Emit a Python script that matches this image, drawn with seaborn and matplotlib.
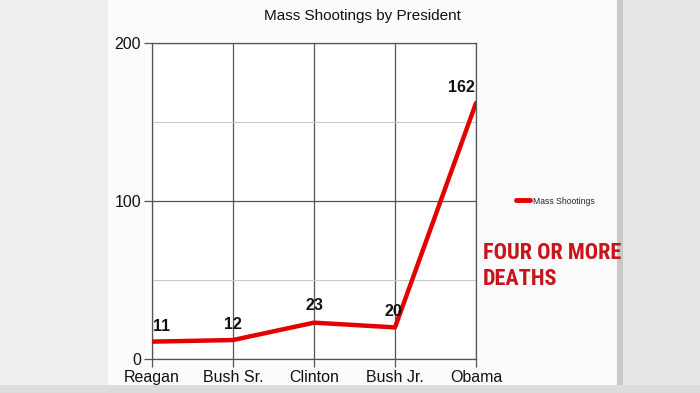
import matplotlib
matplotlib.use("Agg")
import matplotlib.pyplot as plt
import matplotlib.patches as mpatches
from matplotlib.ticker import MultipleLocator
import seaborn as sns
import pandas as pd

presidents = ["Reagan", "Bush Sr.", "Clinton", "Bush Jr.", "Obama"]
shootings = [11, 12, 23, 20, 162]
series_name = "Mass Shootings"
title = "Mass Shootings by President"
caption = "FOUR OR MORE\nDEATHS"

df = pd.DataFrame({"President": presidents, series_name: shootings})

sns.set_theme(style="white")
plt.rcParams["font.family"] = ["Liberation Sans", "DejaVu Sans"]

fig = plt.figure(figsize=(7.0, 3.93), dpi=100)
fig.patch.set_facecolor("#fbfbfb")

# screenshot backdrop: blurred side panels
fig.add_artist(mpatches.Rectangle((0, 0), 108 / 700, 1, transform=fig.transFigure,
                                  facecolor="#efefef", edgecolor="none", zorder=0))
fig.add_artist(mpatches.Rectangle((617 / 700, 0), 83 / 700, 1, transform=fig.transFigure,
                                  facecolor="#e6e6e6", edgecolor="none", zorder=0))
fig.add_artist(mpatches.Rectangle((617 / 700, 0), 6 / 700, 1, transform=fig.transFigure,
                                  facecolor="#c8c8c8", edgecolor="none", zorder=0))
fig.add_artist(mpatches.Rectangle((0, 0), 1, 8 / 393, transform=fig.transFigure,
                                  facecolor="#dcdcdc", edgecolor="none", zorder=0))

ax = fig.add_axes([152 / 700, 34 / 393, 324 / 700, 316 / 393])
ax.set_facecolor("white")

sns.lineplot(data=df, x="President", y=series_name, ax=ax, color="#e30000",
             linewidth=3.2, label=series_name, sort=False, zorder=3)

ax.set_xlim(0, len(presidents) - 1)
ax.set_ylim(0, 200)
ax.yaxis.set_major_locator(MultipleLocator(100))
ax.yaxis.set_minor_locator(MultipleLocator(50))
ax.grid(True, which="major", color="#555555", linewidth=0.9)
ax.grid(True, which="minor", axis="y", color="#c8c8c8", linewidth=0.8)
ax.set_xlabel("")
ax.set_ylabel("")
ax.tick_params(axis="both", which="major", length=6, width=0.9, color="#555555",
               labelsize=11.5, labelcolor="#111111", pad=2, left=True, bottom=True)
ax.tick_params(axis="y", which="minor", length=0)
for s in ax.spines.values():
    s.set_color("#555555")
    s.set_linewidth(0.9)

offsets = [(0.12, 5), (0.0, 5), (0.0, 6), (-0.02, 5), (-0.18, 5)]
for i, (v, (dx, dy)) in enumerate(zip(shootings, offsets)):
    ax.text(i + dx, v + dy, str(v), ha="center", va="bottom", fontsize=11.5,
            fontweight="bold", color="#111111")

leg = ax.legend(loc="center left", bbox_to_anchor=(1.1, 0.5), frameon=False,
                fontsize=6.2, handlelength=1.6, handletextpad=0.4)
for line in leg.get_lines():
    line.set_linewidth(3.5)

fig.text(362 / 700, 1 - 16 / 393, title, ha="center", va="center", fontsize=11,
         color="#111111")

fig.text(483 / 700, 1 - 266 / 393, caption, ha="left", va="center", fontsize=16,
         fontweight="bold", color="#c8141b", linespacing=1.25,
         family=["Liberation Sans Narrow", "Roboto Condensed", "DejaVu Sans"],
         fontstretch="condensed")

fig.savefig("out.png", dpi=100)
